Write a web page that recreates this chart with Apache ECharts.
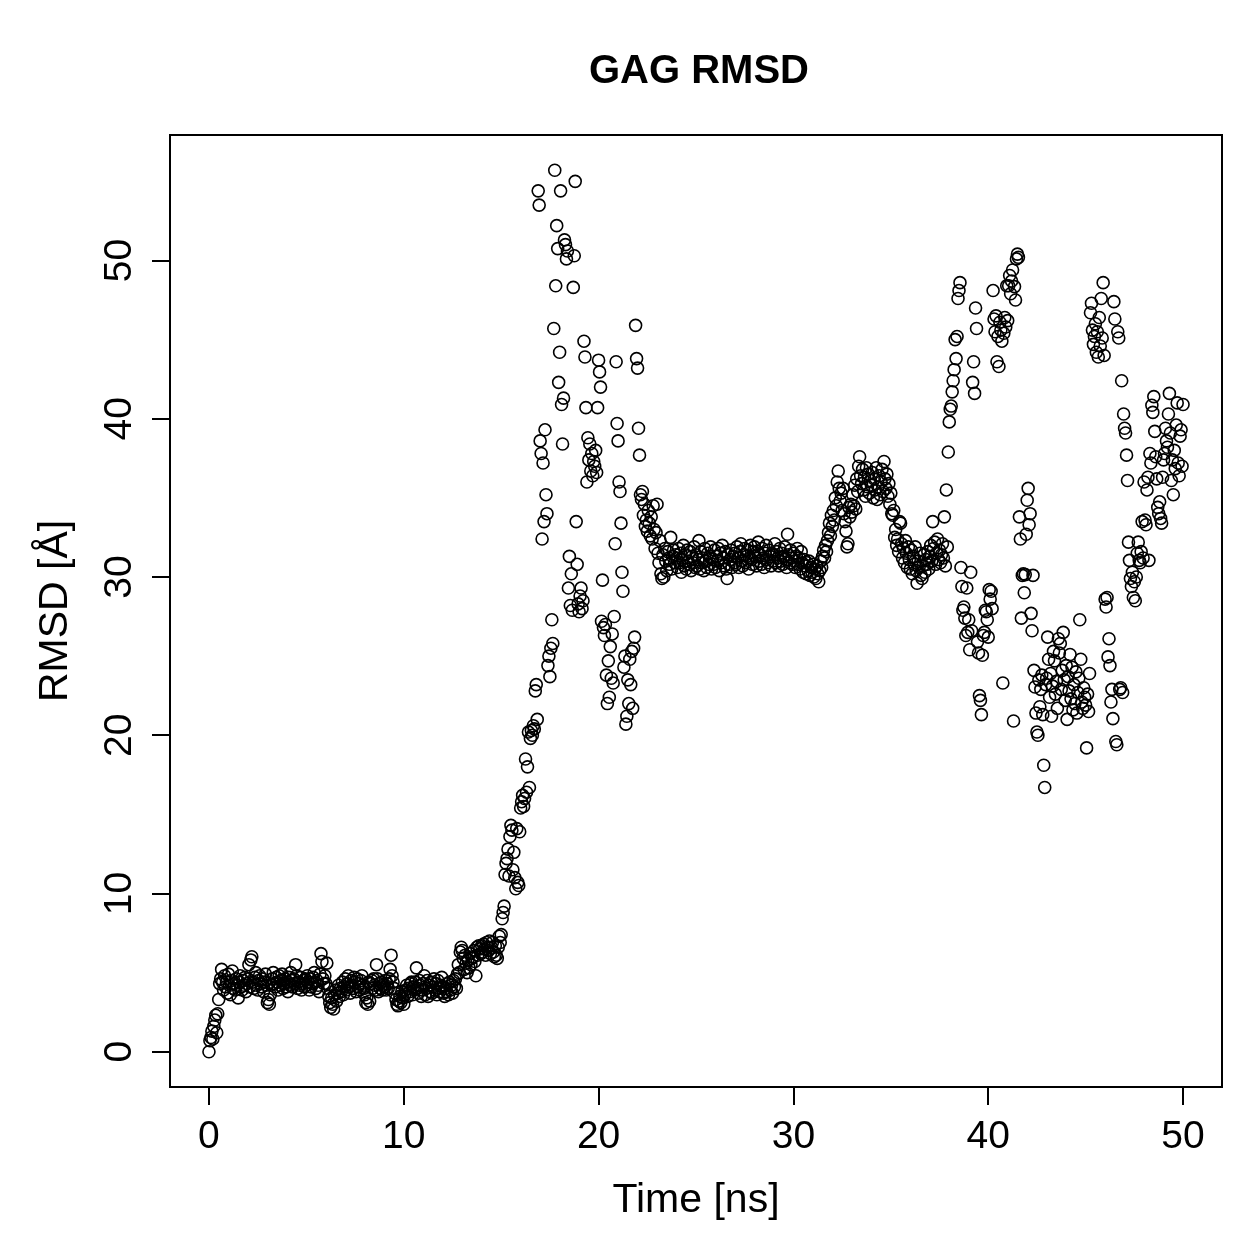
<!DOCTYPE html>
<html>
<head>
<meta charset="utf-8">
<script src="https://cdn.jsdelivr.net/npm/echarts@6/dist/echarts.min.js"></script>
<style>
html,body{margin:0;padding:0;background:#fff;}
#chart{width:1259px;height:1259px;}
</style>
</head>
<body>
<div id="chart"></div>
<script>
// Sampling interval of the trajectory (ns)
const timeStep = 0.05;
// RMSD values (Å), one per frame, read row by row (each row = 1 ns)
const rmsd = [
0.0,0.7,0.9,1.3,0.8,1.6,2.0,2.3,1.2,2.4,3.3,4.3,4.6,5.2,4.4,3.9,4.8,4.1,4.4,3.7,
4.9,4.2,3.6,4.5,5.1,4.0,4.3,3.9,4.6,4.2,3.4,4.4,4.8,4.1,3.9,4.5,4.2,4.7,3.8,4.3,
4.6,5.5,4.1,5.8,6.0,4.4,4.0,4.7,5.0,4.2,3.9,4.5,4.8,4.3,4.1,4.6,3.8,4.4,4.9,4.2,
3.1,3.3,3.0,3.6,4.2,4.6,5.0,4.3,4.1,4.7,4.4,3.9,4.8,4.2,4.5,4.9,4.0,4.3,4.6,4.1,
4.4,3.8,4.7,4.2,5.0,4.5,4.1,4.6,4.3,5.5,4.8,4.0,4.4,4.2,4.7,3.9,4.3,4.5,4.1,4.6,
4.2,4.8,4.4,3.9,4.6,4.1,4.3,4.7,5.0,4.4,4.0,4.5,4.2,3.8,4.9,6.2,5.7,4.6,4.3,4.8,
4.3,5.6,4.0,3.5,3.1,2.8,3.4,3.0,2.7,3.6,3.9,3.2,3.7,4.2,3.5,4.0,3.8,4.4,3.6,4.1,
4.6,3.9,4.3,4.8,4.1,3.7,4.5,4.2,4.0,4.7,4.4,3.8,4.6,4.1,4.3,3.9,4.5,4.8,4.2,4.0,
3.6,3.1,3.4,3.0,4.4,3.2,4.3,4.5,4.0,4.6,4.2,3.9,5.5,4.6,3.8,4.3,4.0,4.4,3.9,4.2,
4.1,4.5,3.9,4.3,4.0,4.6,5.2,6.1,4.8,4.4,4.0,3.7,3.3,3.0,2.9,3.2,3.5,3.1,3.8,3.4,
3.0,3.6,3.9,4.2,3.5,4.0,3.8,4.3,4.4,3.6,4.1,3.9,4.4,5.3,4.0,3.7,4.5,4.2,3.5,3.9,
4.3,4.8,3.6,4.0,4.5,3.5,4.2,3.8,4.4,3.7,4.1,4.6,3.9,4.3,3.6,4.5,4.0,3.8,4.2,4.7,
4.1,3.7,3.5,4.0,3.8,4.3,3.6,4.4,3.9,4.2,3.7,4.5,4.1,4.6,4.0,4.9,5.5,5.0,6.3,6.6,
6.4,5.9,5.2,6.1,5.6,5.0,5.8,5.3,6.2,5.5,5.9,6.0,6.4,5.7,4.8,6.6,6.1,6.7,6.5,6.2,
6.7,6.3,6.8,6.5,6.1,6.9,6.6,6.4,7.0,6.2,6.6,6.9,6.3,6.0,6.7,6.1,5.9,6.6,7.3,6.9,
7.4,8.4,8.8,9.2,11.2,11.9,12.2,12.8,11.1,13.6,14.3,14.0,11.5,12.6,11.0,10.3,14.1,10.7,10.5,13.9,
15.4,15.8,16.2,15.5,16.0,18.5,16.4,18.0,20.2,16.7,19.8,20.3,20.0,20.6,20.4,22.8,23.2,21.0,54.4,53.5,
38.6,37.8,32.4,37.2,33.5,39.3,35.2,34.0,24.4,25.0,23.7,25.5,27.3,25.8,45.7,55.7,48.4,52.2,50.75,42.3,
44.2,54.4,40.9,38.4,41.3,51.3,51.0,50.1,50.6,29.3,31.3,28.2,30.2,27.9,48.3,50.3,55.0,33.5,30.8,28.3,
27.8,28.8,29.3,28.0,28.5,44.9,43.9,40.7,36.0,38.8,37.4,38.4,36.7,37.8,36.4,37.3,37.0,38.0,36.6,40.7,
43.7,42.96,42.0,27.2,29.8,26.8,26.3,27.0,23.8,22.0,24.7,22.4,25.6,23.6,26.4,23.3,27.5,32.1,43.6,39.7,
38.6,36.0,35.4,33.4,30.3,29.1,24.3,25.0,20.7,21.2,23.5,22.0,24.8,23.2,25.3,21.7,25.5,26.2,45.9,43.8,
43.2,39.4,37.7,35.2,34.9,35.4,33.9,34.6,33.2,33.6,32.9,34.2,33.4,32.6,33.8,32.4,34.5,33.0,31.8,32.8,
34.6,31.5,30.9,32.3,30.2,29.9,31.4,30.0,31.8,31.0,30.4,31.6,31.2,30.8,32.5,30.5,31.3,31.7,30.9,31.4,
31.2,30.6,31.8,30.9,31.5,30.3,31.1,32.0,30.7,31.4,30.5,31.7,31.0,30.8,31.6,30.4,31.3,30.9,31.9,30.6,
31.4,30.7,31.1,32.3,30.5,31.6,30.9,31.2,30.4,31.8,31.0,30.6,31.5,30.8,31.3,31.9,30.5,31.1,30.8,31.7,
30.6,31.3,31.0,31.8,30.4,31.5,30.9,32.0,31.2,30.7,31.6,30.5,29.9,31.4,30.8,31.1,31.7,30.6,31.3,30.9,
31.5,30.8,31.9,31.2,30.6,31.6,32.1,31.0,30.7,31.4,31.8,30.9,31.3,31.7,30.5,31.2,32.0,31.1,30.8,31.6,
31.9,31.3,30.7,31.6,32.2,31.0,31.4,30.8,31.8,31.2,30.6,31.5,32.0,31.1,30.9,31.7,31.3,30.7,31.5,31.0,
31.4,32.1,30.9,31.6,31.2,30.7,31.8,31.0,31.5,30.8,31.3,31.9,31.1,30.6,32.7,31.4,30.9,31.7,31.2,30.8,
31.5,31.0,30.6,31.3,31.8,30.8,31.2,30.5,31.6,30.9,30.3,31.1,30.7,30.2,30.9,30.4,31.0,30.1,30.6,30.3,
30.8,30.0,30.5,29.9,30.7,30.2,29.7,30.4,31.0,30.6,31.3,31.7,31.2,32.0,31.6,32.3,32.8,33.4,32.6,33.9,
33.2,34.2,33.6,35.0,34.5,36.0,36.7,35.6,34.8,35.3,34.2,35.6,34.0,33.5,32.9,31.9,32.1,34.4,33.8,34.6,
34.1,35.2,34.5,35.8,34.3,36.2,35.4,37.0,37.6,36.4,35.9,36.8,35.5,36.3,35.1,36.9,35.7,36.5,35.3,36.1,
35.8,36.6,35.0,36.2,35.5,36.9,34.9,35.7,36.4,35.2,36.0,36.8,35.4,37.3,36.2,35.6,36.5,35.1,35.9,34.6,
35.3,34.0,33.9,34.2,32.5,33.0,32.0,32.4,31.6,33.5,33.4,32.1,31.2,31.8,30.9,32.3,31.5,30.6,31.9,31.1,
30.5,31.7,30.2,31.3,30.8,31.9,30.4,29.6,31.0,30.6,31.5,30.1,29.9,30.7,31.4,30.3,31.1,30.8,31.6,30.5,
31.3,32.0,31.0,33.5,31.8,32.2,30.8,31.5,32.4,31.1,31.7,30.9,31.4,32.1,31.2,33.8,30.7,35.5,31.9,37.9,
39.8,40.6,40.8,41.7,42.4,43.1,45.0,43.8,45.2,47.6,48.1,48.6,30.6,29.4,27.9,28.1,27.4,26.3,29.3,26.5,
27.3,25.4,30.3,26.6,42.3,43.6,41.6,47.0,45.7,25.9,25.2,22.5,22.2,21.3,25.05,26.3,26.5,27.9,27.8,27.3,
26.2,29.2,28.6,29.1,28.0,48.1,46.3,45.5,46.5,43.6,45.2,43.3,46.1,45.6,44.9,23.3,45.4,46.4,45.8,48.4,
46.2,48.4,49.05,47.9,48.7,49.4,20.9,48.35,47.5,50.1,50.4,50.2,33.8,32.4,27.4,30.1,30.2,29.0,30.15,32.7,
34.85,35.6,33.3,34.0,27.7,26.6,30.1,24.1,23.05,21.4,20.2,20.0,23.5,21.8,22.9,23.8,21.3,18.1,16.7,23.2,
23.6,26.2,24.8,22.4,23.9,21.2,23.1,25.3,24.7,22.6,23.4,21.7,26.1,25.2,25.8,22.9,24.1,26.5,23.5,22.2,
24.4,21.0,23.7,22.8,25.1,22.3,24.3,21.6,23.2,22.0,24.0,21.4,22.7,23.6,27.3,24.8,22.1,21.7,23.0,22.4,
21.9,19.2,22.6,21.5,23.9,46.7,47.3,45.6,44.7,45.2,46.0,44.2,45.5,43.9,46.4,44.6,47.6,45.1,48.6,44.0,
28.6,28.1,28.7,24.95,26.1,24.4,22.1,22.9,21.05,47.4,46.3,19.6,19.4,45.5,45.1,22.9,23.0,42.4,22.7,40.3,
39.4,39.1,37.7,36.1,32.2,31.05,29.9,29.4,30.3,28.7,29.7,28.5,30.0,31.5,32.2,31.05,30.9,31.6,33.5,31.2,
36.0,33.6,33.3,35.5,36.3,31.05,37.8,37.2,40.85,40.4,41.4,39.2,37.6,36.2,34.4,34.0,34.75,33.7,33.4,36.3,
37.4,37.8,39.4,38.6,38.2,40.3,41.6,39.1,36.1,37.4,35.2,38.0,36.85,39.6,41.0,37.2,36.4,38.9,39.3,37.0,
40.9
];
const xTicks = [0, 10, 20, 30, 40, 50];
const yTicks = [0, 10, 20, 30, 40, 50];
const titleText = 'GAG RMSD';
const xName = 'Time [ns]';
const yName = 'RMSD [Å]';

const points = rmsd.map((v, i) => [Math.round(i * timeStep * 100) / 100, v]);

const FONT = '"Liberation Sans", Arial, Helvetica, sans-serif';
const chart = echarts.init(document.getElementById('chart'), null, {renderer: 'canvas'});
chart.setOption({
  animation: false,
  backgroundColor: '#ffffff',
  title: {
    text: titleText,
    left: 694,
    top: 47,
    textAlign: 'center',
    textStyle: {fontFamily: FONT, fontWeight: 'bold', fontSize: 40, color: '#000'}
  },
  grid: {
    left: 170, top: 135, width: 1052, height: 952,
    show: true, borderColor: '#000', borderWidth: 2, backgroundColor: 'transparent'
  },
  xAxis: {
    type: 'value', min: -2, max: 52,
    name: xName, nameLocation: 'middle', nameGap: 93,
    nameTextStyle: {fontFamily: FONT, fontSize: 41, color: '#000'},
    axisLine: {show: false, onZero: false},
    splitLine: {show: false},
    axisTick: {show: true, inside: false, length: 18, customValues: xTicks,
      lineStyle: {color: '#000', width: 2}},
    axisLabel: {customValues: xTicks, margin: 31, fontFamily: FONT, fontSize: 39, color: '#000'}
  },
  yAxis: {
    type: 'value', min: -2.23, max: 57.93,
    name: yName, nameLocation: 'middle', nameGap: 94, nameRotate: 90,
    nameTextStyle: {fontFamily: FONT, fontSize: 41, color: '#000'},
    axisLine: {show: false, onZero: false},
    splitLine: {show: false},
    axisTick: {show: true, inside: false, length: 18, customValues: yTicks,
      lineStyle: {color: '#000', width: 2}},
    axisLabel: {customValues: yTicks, rotate: 90, margin: 30, fontFamily: FONT, fontSize: 39, color: '#000'}
  },
  series: [{
    type: 'scatter',
    data: points,
    symbol: 'circle',
    symbolSize: 12,
    itemStyle: {color: 'rgba(0,0,0,0)', borderColor: '#000', borderWidth: 1.6, opacity: 1},
    emphasis: {disabled: true},
    silent: true
  }]
});
</script>
</body>
</html>
